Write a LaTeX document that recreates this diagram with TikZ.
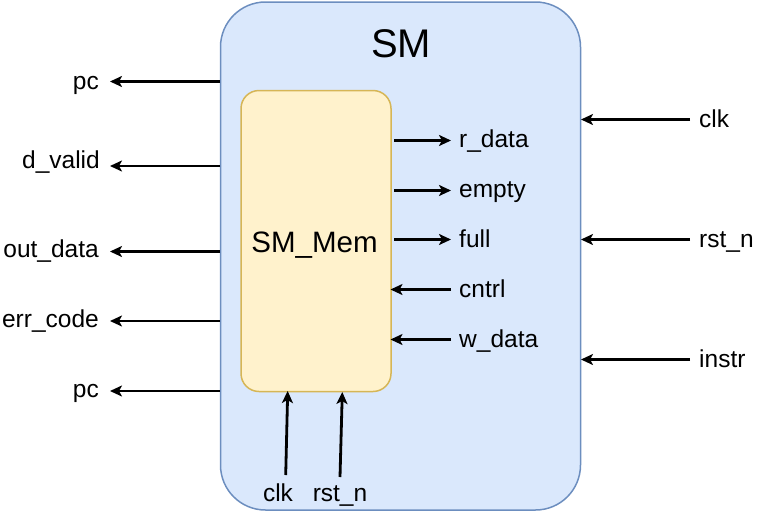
\documentclass[tikz,border=0pt]{standalone}
\usepackage{fontspec}
\setmainfont{Liberation Sans}
\usetikzlibrary{arrows.meta}
\definecolor{outerfill}{HTML}{DAE8FC}
\definecolor{outerline}{HTML}{6C8EBF}
\definecolor{innerfill}{HTML}{FFF2CC}
\definecolor{innerline}{HTML}{D6B656}
\tikzset{
  sig/.style={line width=2.8pt, -{Stealth[length=12pt,width=11pt,inset=3pt]}},
  lbl/.style={inner sep=0pt, font=\fontsize{24.5}{28}\selectfont},
}
\begin{document}
\begin{tikzpicture}[x=1pt,y=-1pt]
\useasboundingbox (0,0) rectangle (768,512);
% outer box
\node[draw=outerline, fill=outerfill, line width=1.5pt, rounded corners=45pt,
      minimum width=360pt, minimum height=508pt, inner sep=0pt] (sm) at (400.5,256) {};
\node[inner sep=0pt, anchor=base, font=\fontsize{40}{44}\selectfont] (smt) at (401,57) {SM};
% inner box
\node[draw=innerline, fill=innerfill, line width=1.5pt, rounded corners=18pt,
      minimum width=150pt, minimum height=301pt, inner sep=0pt] (mem) at (316,241) {};
\node[inner sep=0pt, anchor=base, font=\fontsize{29.5}{33}\selectfont] (memt) at (314.5,252) {SM\_Mem};

% left outputs
\node[lbl, anchor=base east] (lpc1) at (99,89) {pc};
\node[lbl, anchor=base east] (ldv) at (100,168) {d\_valid};
\node[lbl, anchor=base east] (lod) at (99,257) {out\_data};
\node[lbl, anchor=base east] (lec) at (99,327) {err\_code};
\node[lbl, anchor=base east] (lpc2) at (99,397) {pc};
\foreach \n/\y in {a/81.5,b/166,c/251.5,d/321,e/391}{
  \coordinate (ls\n) at (220,\y);
  \coordinate (le\n) at (110,\y);
}
\draw[sig] (lsa) -- (lea);
\draw[sig] (lsb) -- (leb);
\draw[sig] (lsc) -- (lec);
\draw[sig] (lsd) -- (led);
\draw[sig] (lse) -- (lee);

% right inputs
\node[lbl, anchor=base west] (rclk) at (699,127) {clk};
\node[lbl, anchor=base west] (rrst) at (699,247) {rst\_n};
\node[lbl, anchor=base west] (rins) at (699,367) {instr};
\foreach \n/\y in {a/119.5,b/239.5,c/359.5}{
  \coordinate (rs\n) at (690,\y);
  \coordinate (re\n) at (581,\y);
}
\draw[sig] (rsa) -- (rea);
\draw[sig] (rsb) -- (reb);
\draw[sig] (rsc) -- (rec);

% inner signals
\node[lbl, anchor=base west] (ird) at (459,147) {r\_data};
\node[lbl, anchor=base west] (iem) at (459,197) {empty};
\node[lbl, anchor=base west] (ifu) at (459,247) {full};
\node[lbl, anchor=base west] (icn) at (459,297) {cntrl};
\node[lbl, anchor=base west] (iwd) at (459,347) {w\_data};
\foreach \n/\y in {a/140.5,b/190.5,c/239.5,d/289.5,e/339.5}{
  \coordinate (il\n) at (394,\y);
  \coordinate (ir\n) at (451,\y);
}
\coordinate (ild2) at (390.5,289.5);
\coordinate (ile2) at (390.5,339.5);
\draw[sig] (ila) -- (ira);
\draw[sig] (ilb) -- (irb);
\draw[sig] (ilc) -- (irc);
\draw[sig] (ird) -- (ild2);
\draw[sig] (ire) -- (ile2);

% bottom inputs
\node[lbl, anchor=base] (bclk) at (278,501) {clk};
\node[lbl, anchor=base] (brst) at (340,501) {rst\_n};
\coordinate (bca) at (285.7,475);
\coordinate (bcb) at (287.7,391);
\coordinate (bra) at (340,477);
\coordinate (brb) at (342.3,392);
\draw[sig] (bca) -- (bcb);
\draw[sig] (bra) -- (brb);
\end{tikzpicture}
\end{document}
